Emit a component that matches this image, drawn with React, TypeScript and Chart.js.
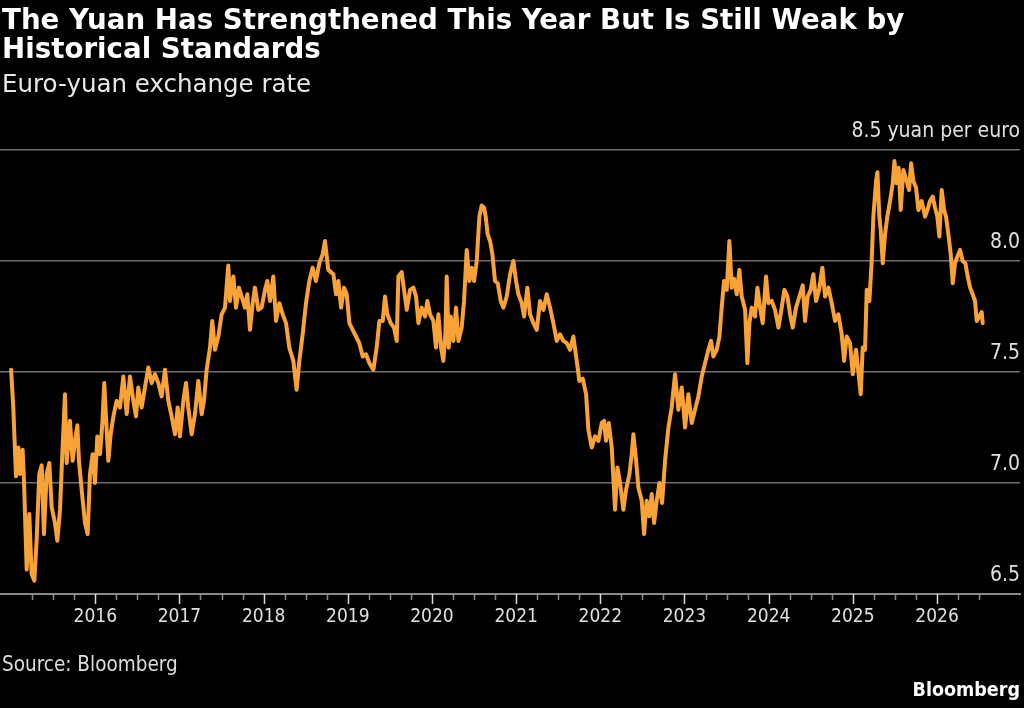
import React, { useEffect, useRef } from "react";
import { Chart, registerables } from "chart.js";

Chart.register(...registerables);

// Decimal years (x) and euro-yuan rate (y)
const dates = [
  2015.000, 2015.026, 2015.058, 2015.086, 2015.105, 2015.137, 2015.153, 2015.185, 2015.216, 2015.244,
  2015.276, 2015.303, 2015.335, 2015.363, 2015.390, 2015.422, 2015.454, 2015.482, 2015.521, 2015.549,
  2015.581, 2015.608, 2015.640, 2015.660, 2015.699, 2015.731, 2015.759, 2015.787, 2015.806, 2015.838,
  2015.878, 2015.909, 2015.937, 2015.969, 2015.996, 2016.024, 2016.056, 2016.084, 2016.107, 2016.127,
  2016.155, 2016.183, 2016.215, 2016.254, 2016.294, 2016.333, 2016.373, 2016.412, 2016.452, 2016.484,
  2016.511, 2016.551, 2016.590, 2016.630, 2016.670, 2016.709, 2016.749, 2016.788, 2016.828, 2016.868,
  2016.907, 2016.947, 2016.979, 2017.006, 2017.046, 2017.078, 2017.105, 2017.145, 2017.184, 2017.224,
  2017.264, 2017.291, 2017.323, 2017.363, 2017.390, 2017.422, 2017.462, 2017.501, 2017.541, 2017.580,
  2017.600, 2017.640, 2017.672, 2017.707, 2017.739, 2017.778, 2017.806, 2017.838, 2017.870, 2017.897,
  2017.937, 2017.976, 2018.016, 2018.044, 2018.076, 2018.115, 2018.147, 2018.187, 2018.226, 2018.266,
  2018.305, 2018.353, 2018.392, 2018.424, 2018.464, 2018.503, 2018.543, 2018.582, 2018.622, 2018.662,
  2018.701, 2018.729, 2018.768,
  2018.829, 2018.860, 2018.888, 2018.920, 2018.955, 2018.987, 2019.019, 2019.058, 2019.098, 2019.137,
  2019.177, 2019.217, 2019.256, 2019.304, 2019.343, 2019.375, 2019.415, 2019.442, 2019.470, 2019.510,
  2019.549, 2019.581, 2019.601, 2019.640, 2019.668, 2019.700, 2019.739, 2019.779, 2019.811, 2019.839,
  2019.878, 2019.918, 2019.945, 2019.977, 2020.017, 2020.048, 2020.076, 2020.108, 2020.135, 2020.159,
  2020.175, 2020.199, 2020.223, 2020.254, 2020.286, 2020.314, 2020.353, 2020.381, 2020.413, 2020.444,
  2020.472, 2020.500, 2020.532, 2020.563, 2020.591, 2020.619, 2020.638, 2020.662, 2020.690, 2020.718,
  2020.749, 2020.781, 2020.817, 2020.848, 2020.888, 2020.928, 2020.967, 2020.999, 2021.027, 2021.066,
  2021.094, 2021.133, 2021.165, 2021.205, 2021.245, 2021.284, 2021.324, 2021.363, 2021.403, 2021.442,
  2021.482, 2021.522, 2021.561, 2021.601, 2021.641, 2021.680, 2021.720, 2021.751, 2021.791, 2021.831,
  2021.858, 2021.898, 2021.938, 2021.977, 2022.017, 2022.045, 2022.068, 2022.100, 2022.136, 2022.175,
  2022.203, 2022.235, 2022.274, 2022.306, 2022.346, 2022.373, 2022.393, 2022.425, 2022.452, 2022.492,
  2022.520, 2022.551, 2022.583, 2022.611, 2022.639, 2022.670, 2022.702, 2022.734, 2022.769, 2022.809,
  2022.848, 2022.888,
  2022.927, 2022.967, 2023.007, 2023.046, 2023.086, 2023.125, 2023.165, 2023.205, 2023.244, 2023.284,
  2023.316, 2023.343, 2023.383, 2023.415, 2023.442, 2023.470, 2023.502, 2023.533, 2023.561, 2023.589,
  2023.621, 2023.652, 2023.680, 2023.720, 2023.747, 2023.771, 2023.799, 2023.838, 2023.866, 2023.898,
  2023.929, 2023.969, 2023.997, 2024.036, 2024.076, 2024.116, 2024.155, 2024.187, 2024.223, 2024.254,
  2024.286, 2024.325, 2024.365, 2024.405, 2024.432, 2024.464, 2024.500, 2024.531, 2024.563, 2024.599,
  2024.638, 2024.670, 2024.710, 2024.749, 2024.789, 2024.828, 2024.868, 2024.896, 2024.927, 2024.967,
  2024.999, 2025.038,
  2025.094, 2025.117, 2025.145, 2025.165, 2025.197, 2025.224, 2025.244, 2025.276, 2025.292, 2025.315,
  2025.331, 2025.355, 2025.383, 2025.410, 2025.442, 2025.474, 2025.494, 2025.521, 2025.545, 2025.569,
  2025.600, 2025.640, 2025.668, 2025.692, 2025.719, 2025.751, 2025.779, 2025.818, 2025.858, 2025.886,
  2025.917, 2025.949, 2025.977, 2026.004, 2026.028, 2026.056, 2026.084, 2026.107, 2026.135, 2026.163,
  2026.187, 2026.214, 2026.242, 2026.274, 2026.305, 2026.337, 2026.365, 2026.393, 2026.424, 2026.452,
  2026.472, 2026.503, 2026.531, 2026.543,
];

const rates = [
  7.51, 7.34, 7.03, 7.16, 7.04, 7.15, 7.01, 6.61, 6.86, 6.59,
  6.56, 6.74, 7.04, 7.08, 6.77, 7.04, 7.09, 6.89, 6.82, 6.74,
  6.88, 7.13, 7.40, 7.09, 7.28, 7.10, 7.19, 7.26, 7.10, 6.97,
  6.82, 6.77, 7.04, 7.13, 7.00, 7.21, 7.13, 7.27, 7.45, 7.30,
  7.10, 7.22, 7.30, 7.37, 7.34, 7.48, 7.31, 7.48, 7.37, 7.30,
  7.43, 7.34, 7.43, 7.52, 7.45, 7.49, 7.45, 7.39, 7.51, 7.37,
  7.30, 7.22, 7.34, 7.21, 7.37, 7.45, 7.34, 7.22, 7.31, 7.46,
  7.31, 7.37, 7.51, 7.61, 7.73, 7.60, 7.66, 7.76, 7.79, 7.98,
  7.82, 7.93, 7.79, 7.88, 7.84, 7.79, 7.85, 7.69, 7.81, 7.88,
  7.78, 7.79, 7.87, 7.91, 7.82, 7.93, 7.73, 7.81, 7.76, 7.72,
  7.61, 7.55, 7.42, 7.55, 7.67, 7.81, 7.91, 7.97, 7.91, 7.99,
  8.03, 8.09, 7.96,
  7.94, 7.85, 7.91, 7.79, 7.88, 7.85, 7.72, 7.69, 7.66, 7.63,
  7.57, 7.58, 7.54, 7.51, 7.61, 7.73, 7.73, 7.84, 7.76, 7.72,
  7.70, 7.64, 7.93, 7.95, 7.87, 7.78, 7.87, 7.88, 7.84, 7.72,
  7.79, 7.75, 7.82, 7.76, 7.73, 7.61, 7.76, 7.61, 7.55, 7.67,
  7.93, 7.61, 7.75, 7.64, 7.79, 7.64, 7.70, 7.82, 8.05, 7.91,
  7.97, 7.91, 8.00, 8.20, 8.25, 8.24, 8.20, 8.12, 8.09, 8.03,
  7.91, 7.90, 7.82, 7.79, 7.84, 7.94, 8.00, 7.91, 7.85, 7.81,
  7.75, 7.88, 7.76, 7.72, 7.69, 7.82, 7.78, 7.85, 7.79, 7.72,
  7.64, 7.67, 7.64, 7.63, 7.60, 7.66, 7.55, 7.46, 7.47, 7.40,
  7.24, 7.16, 7.21, 7.19, 7.27, 7.28, 7.19, 7.27, 7.16, 6.88,
  7.07, 7.00, 6.88, 6.97, 7.04, 7.13, 7.22, 7.10, 6.98, 6.92,
  6.77, 6.92, 6.85, 6.95, 6.82, 6.92, 7.00, 6.91, 7.10, 7.25,
  7.34, 7.49,
  7.33, 7.43, 7.25, 7.40, 7.27, 7.33, 7.39, 7.48, 7.54, 7.60,
  7.64, 7.57, 7.60, 7.66, 7.79, 7.91, 7.87, 8.09, 7.88, 7.92,
  7.85, 7.96, 7.84, 7.78, 7.54, 7.72, 7.79, 7.75, 7.88, 7.79,
  7.72, 7.93, 7.81, 7.82, 7.78, 7.70, 7.79, 7.87, 7.84, 7.76,
  7.70, 7.79, 7.84, 7.89, 7.73, 7.84, 7.87, 7.94, 7.82, 7.87,
  7.97, 7.84, 7.88, 7.81, 7.73, 7.76, 7.67, 7.55, 7.66, 7.63,
  7.49, 7.60,
  7.40, 7.61, 7.60, 7.87, 7.82, 8.00, 8.20, 8.36, 8.40, 8.20,
  8.14, 7.99, 8.12, 8.20, 8.27, 8.35, 8.45, 8.35, 8.42, 8.23,
  8.41, 8.36, 8.32, 8.44, 8.36, 8.33, 8.23, 8.27, 8.20, 8.23,
  8.27, 8.29, 8.24, 8.20, 8.11, 8.32, 8.23, 8.20, 8.12, 8.03,
  7.90, 7.99, 8.02, 8.05, 8.00, 7.99, 7.93, 7.88, 7.85, 7.82,
  7.73, 7.75, 7.77, 7.72,
];

const tickYears = [2016, 2017, 2018, 2019, 2020, 2021, 2022, 2023, 2024, 2025, 2026];
const yTicks = [6.5, 7.0, 7.5, 8.0, 8.5];
const yUnit = "yuan per euro";
const quarterStart = 2015.25;
const quarterEnd = 2026.5;
const xMin = 2014.868;
const xMax = 2026.986;

const FONT = "'DejaVu Sans Condensed', 'DejaVu Sans', sans-serif";
const FONT_WIDE = "'DejaVu Sans', sans-serif";
const LINE_COLOR = "#f8a238";

const quarterTicks = {
  id: "quarterTicks",
  afterDraw(chart: any) {
    const xs = chart.scales.x;
    const ctx = chart.ctx;
    const y0 = xs.top;
    ctx.save();
    ctx.lineWidth = 1.5;
    for (let q = quarterStart; q <= quarterEnd + 1e-9; q += 0.25) {
      const major = Math.abs(q - Math.round(q)) < 1e-6;
      const px = Math.round(xs.getPixelForValue(q)) + 0.5;
      ctx.strokeStyle = major ? "#d8d8d8" : "#8c8c8c";
      ctx.beginPath();
      ctx.moveTo(px, y0);
      ctx.lineTo(px, y0 + (major ? 10 : 6));
      ctx.stroke();
    }
    ctx.restore();
  },
};

function EuroYuanChart() {
  const ref = useRef<HTMLCanvasElement | null>(null);
  useEffect(() => {
    if (!ref.current) return;
    const points = dates.map((d, i) => ({ x: d, y: rates[i] }));
    const chart = new Chart(ref.current, {
      type: "line",
      data: {
        datasets: [
          {
            data: points,
            borderColor: LINE_COLOR,
            borderWidth: 4,
            pointRadius: 0,
            tension: 0,
            borderJoinStyle: "round",
            borderCapStyle: "round",
            fill: false,
          },
        ],
      },
      options: {
        animation: false,
        responsive: false,
        maintainAspectRatio: false,
        layout: { padding: { left: 0, right: 4, top: 150, bottom: 74 } },
        plugins: { legend: { display: false }, tooltip: { enabled: false }, title: { display: false } },
        scales: {
          x: {
            type: "linear",
            min: xMin,
            max: xMax,
            afterBuildTicks: (s: any) => {
              s.ticks = tickYears.map((v) => ({ value: v }));
            },
            afterFit: (s: any) => {
              s.height = 40;
            },
            grid: { display: false },
            border: { display: true, color: "#8a8a8a", width: 2 },
            ticks: {
              autoSkip: false,
              maxRotation: 0,
              padding: 4,
              color: "#e0e0e0",
              font: { family: FONT, size: 19 },
              callback: (v: any) => String(v),
            },
          },
          y: {
            type: "linear",
            position: "right",
            min: 6.5,
            max: 8.5,
            afterBuildTicks: (s: any) => {
              s.ticks = yTicks.map((v) => ({ value: v }));
            },
            afterFit: (s: any) => {
              s.width = 0;
            },
            grid: { color: "#6e6e6e", lineWidth: 1.5, drawTicks: false },
            border: { display: false },
            ticks: {
              mirror: true,
              padding: 0,
              labelOffset: -18,
              color: "#e0e0e0",
              font: { family: FONT, size: 21 },
              callback: (v: any) => (Number(v) === 8.5 ? `8.5 ${yUnit}` : Number(v).toFixed(1)),
            },
          },
        },
      },
      plugins: [quarterTicks],
    });
    return () => chart.destroy();
  }, []);
  return (
    <canvas
      ref={ref}
      width={1024}
      height={708}
      style={{ position: "absolute", left: 0, top: 0, width: 1024, height: 708 }}
    />
  );
}

export default function App() {
  const text: React.CSSProperties = { position: "absolute", margin: 0, whiteSpace: "nowrap" };
  return (
    <div style={{ position: "absolute", left: 0, top: 0, width: 1024, height: 708, background: "#000", overflow: "hidden" }}>
      <EuroYuanChart />
      <div style={{ ...text, fontFamily: FONT_WIDE, left: 2, top: 5, fontSize: 27.7, lineHeight: "29px", fontWeight: 700, color: "#ffffff" }}>
        The Yuan Has Strengthened This Year But Is Still Weak by
        <br />
        Historical Standards
      </div>
      <div style={{ ...text, fontFamily: FONT_WIDE, left: 2, top: 70, fontSize: 24.5, lineHeight: "28px", color: "#e8e8e8" }}>
        Euro-yuan exchange rate
      </div>
      <div style={{ ...text, fontFamily: FONT, left: 2, top: 652, fontSize: 20.5, lineHeight: "24px", color: "#dddddd" }}>
        Source: Bloomberg
      </div>
      <div style={{ ...text, fontFamily: FONT, right: 4, top: 678, fontSize: 19.5, lineHeight: "24px", fontWeight: 700, color: "#ffffff" }}>
        Bloomberg
      </div>
    </div>
  );
}
